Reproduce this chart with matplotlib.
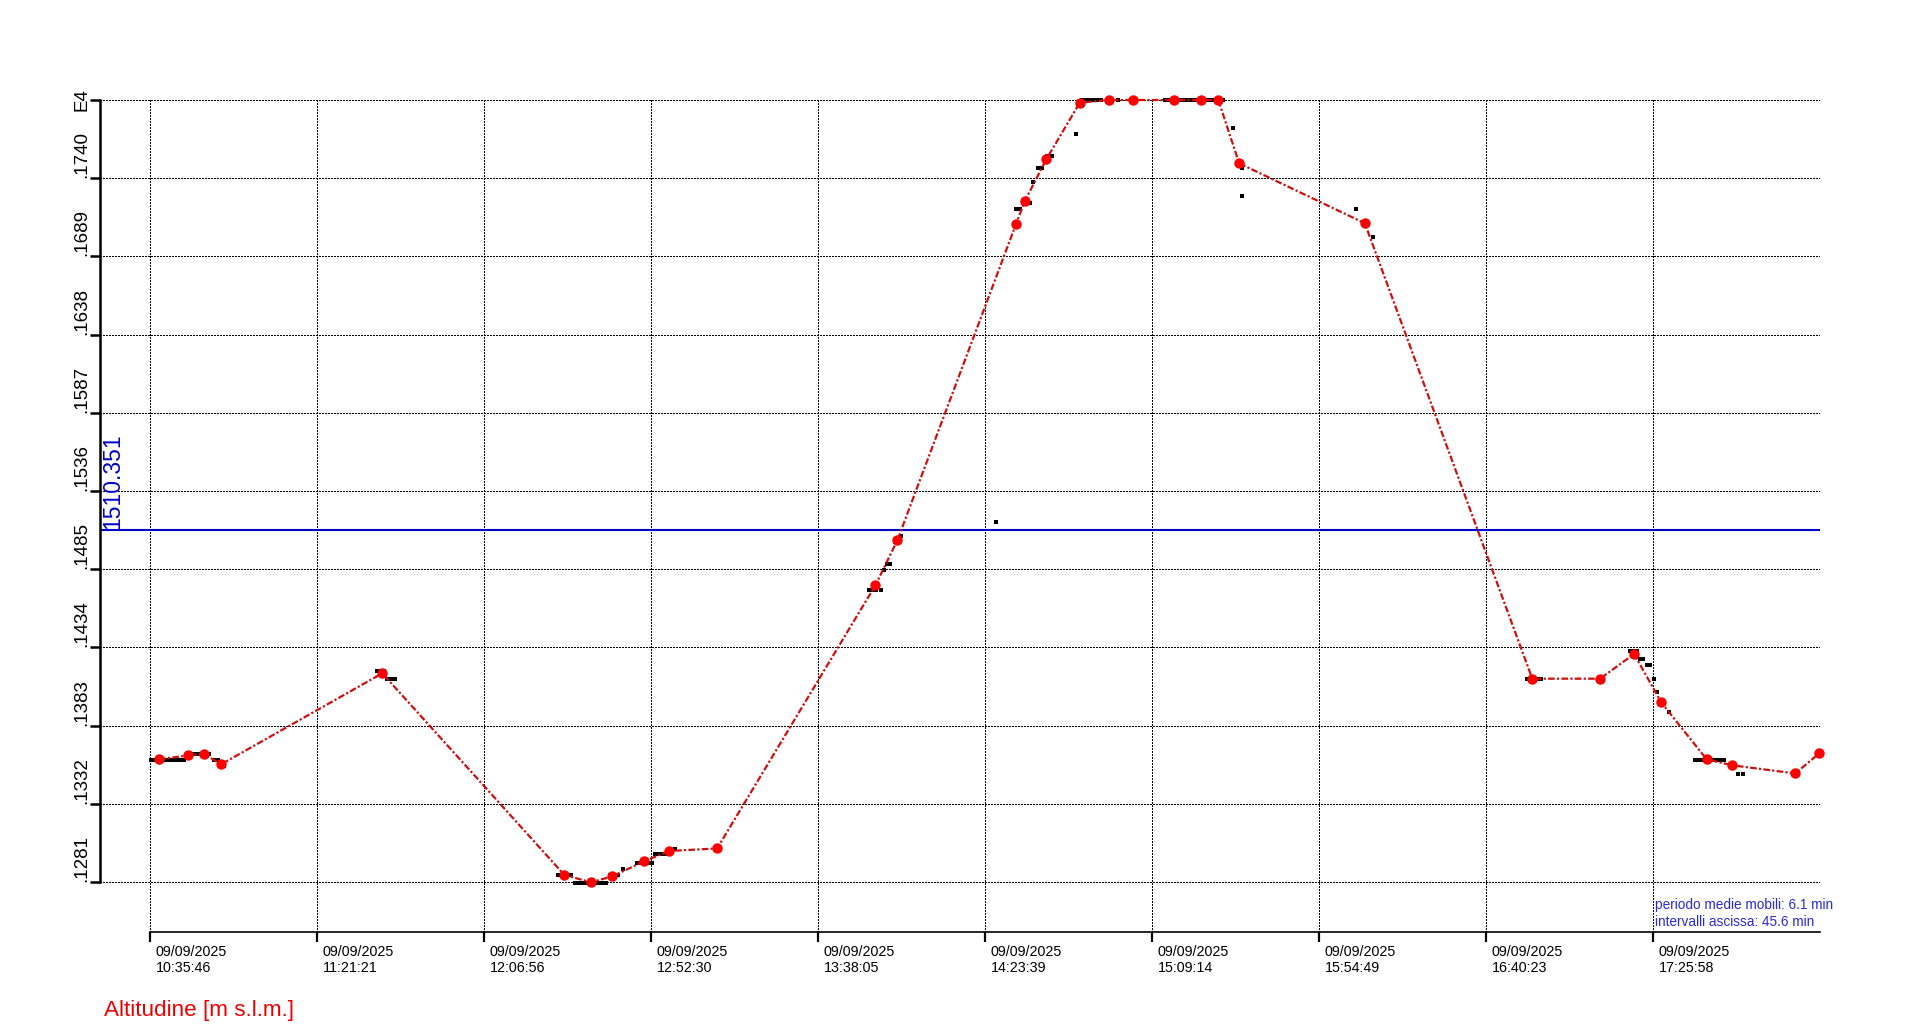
#---------Librerie---------#
import matplotlib
matplotlib.use("Agg")
import matplotlib.pyplot as plt
#---------Librerie---------#

plt.rcParams['font.family'] = ['Liberation Sans', 'DejaVu Sans']

#----------Dati----------#
INTERVALLO = 45 + 35 / 60   # minuti tra due linee verticali (45.6 min)

etichette_x = ["09/09/2025\n10:35:46", "09/09/2025\n11:21:21", "09/09/2025\n12:06:56",
               "09/09/2025\n12:52:30", "09/09/2025\n13:38:05", "09/09/2025\n14:23:39",
               "09/09/2025\n15:09:14", "09/09/2025\n15:54:49", "09/09/2025\n16:40:23",
               "09/09/2025\n17:25:58"]

quote_y = [1281, 1332, 1383, 1434, 1485, 1536, 1587, 1638, 1689, 1740, 1791]
etichette_y = [".1281", ".1332", ".1383", ".1434", ".1485", ".1536", ".1587",
               ".1638", ".1689", ".1740", "E4"]

# medie mobili (minuti dall'inizio, quota)
media_min = [2.5, 10.5, 14.8, 19.4, 63.4, 113.1, 120.4, 126.2, 134.8, 141.6, 154.8,
             198.0, 204.0, 236.4, 238.8, 244.7, 253.8, 261.8, 268.4, 279.5, 286.9,
             291.6, 297.3, 331.6, 377.3, 395.8, 405.1, 412.5, 424.9, 431.9, 449.1, 455.6]
media_quota = [1361.0, 1363.6, 1364.5, 1357.7, 1417.1, 1285.6, 1280.8, 1284.7, 1294.4,
               1301.2, 1302.9, 1474.5, 1503.9, 1710.2, 1725.2, 1752.5, 1789.3, 1791.0,
               1791.0, 1791.0, 1791.0, 1791.0, 1749.7, 1710.6, 1413.6, 1413.6, 1429.7,
               1398.1, 1361.0, 1357.1, 1351.8, 1364.9]

# punti grezzi
grezzi_min = [0.3, 1.3, 2.3, 3.3, 4.3, 5.3, 6.3, 7.3, 8.3, 9.4,
              10.6, 11.7, 12.8, 13.9, 15.0, 16.1,
              17.5, 18.6, 19.3, 20.3,
              62.0, 63.0, 64.0, 64.8, 65.8, 66.8,
              111.5, 112.6, 113.7, 114.8,
              116.0, 117.1, 118.1, 119.2, 120.2, 121.3, 122.3, 123.4, 124.4,
              125.6, 126.7, 127.7, 129.2,
              133.0, 134.0, 135.0, 136.0, 137.0,
              137.8, 138.8, 139.8, 140.8, 142.0, 143.2,
              196.3, 197.3, 198.3, 199.4, 200.4, 201.3, 202.1, 203.4, 204.9,
              230.8,
              236.4, 237.6, 238.4, 239.4, 240.2, 240.9, 242.3, 243.6, 244.8, 246.1,
              252.7,
              254.5, 255.5, 256.5, 257.5, 258.5, 259.5, 264.3,
              277.0, 278.0, 279.0, 280.0, 281.0, 282.0, 283.0, 284.0, 285.0,
              286.0, 287.0, 288.0, 289.0, 290.0, 291.0, 292.0, 293.0,
              295.7, 298.2, 298.2,
              329.3, 333.7,
              375.8, 376.8, 377.8, 378.8, 379.8,
              404.0, 405.0, 405.8, 406.6, 407.6, 408.6, 409.3, 410.4, 411.3, 414.7,
              421.7, 422.7, 423.7, 424.7, 425.7, 426.7, 427.7, 428.7, 429.7,
              433.4, 434.8]
grezzi_quota = [1360.6, 1360.6, 1360.6, 1360.6, 1360.6, 1360.6, 1360.6, 1360.6, 1360.6, 1360.6,
                1364.7, 1364.7, 1364.7, 1364.7, 1364.7, 1364.7,
                1360.6, 1360.6, 1356.9, 1356.9,
                1418.8, 1418.8, 1418.8, 1413.4, 1413.4, 1413.4,
                1285.8, 1285.8, 1285.8, 1285.8,
                1280.5, 1280.5, 1280.5, 1280.5, 1280.5, 1280.5, 1280.5, 1280.5, 1280.5,
                1285.6, 1285.6, 1285.6, 1289.5,
                1293.6, 1293.6, 1293.6, 1293.6, 1293.6,
                1299.3, 1299.3, 1299.3, 1299.3, 1302.5, 1302.5,
                1471.6, 1471.6, 1471.6, 1471.6, 1484.7, 1488.5, 1488.5, 1502.9, 1506.9,
                1516.0,
                1720.1, 1720.1, 1724.0, 1724.0, 1724.0, 1737.7, 1746.9, 1746.9, 1754.5, 1754.5,
                1768.8,
                1790.8, 1790.8, 1790.8, 1790.8, 1790.8, 1790.8, 1790.8,
                1790.8, 1790.8, 1790.8, 1790.8, 1790.8, 1790.8, 1790.8, 1790.8, 1790.8,
                1790.8, 1790.8, 1790.8, 1790.8, 1790.8, 1790.8, 1790.8, 1790.8,
                1773.0, 1746.8, 1728.5,
                1720.1, 1701.9,
                1413.4, 1413.4, 1413.4, 1413.4, 1413.4,
                1431.9, 1431.9, 1431.9, 1426.4, 1426.4, 1422.7, 1422.7, 1413.4, 1405.1, 1392.1,
                1360.8, 1360.8, 1360.8, 1360.8, 1360.8, 1360.8, 1360.8, 1360.8, 1360.8,
                1351.6, 1351.6]

QUOTA_MEDIA = 1510.351
TESTO_INFO = "periodo medie mobili: 6.1 min\nintervalli ascissa: 45.6 min"
#----------Dati----------#

#----------Grafico----------#
fig = plt.figure(figsize=(19.2, 10.32), dpi=100)
ax = fig.add_axes([100 / 1920, 100 / 1032, 1720 / 1920, 832 / 1032])

tick_x = [i * INTERVALLO for i in range(len(etichette_x))]
passo_y = quote_y[1] - quote_y[0]
ax.set_xlim(-50 / 167 * INTERVALLO, len(etichette_x) * INTERVALLO)
ax.set_ylim(quote_y[0] - 50 / 78.2 * passo_y, quote_y[-1])

for lato in ["top", "right"]:
    ax.spines[lato].set_visible(False)
ax.spines["left"].set_bounds(quote_y[0], quote_y[-1])
ax.spines["left"].set_linewidth(1.8)
ax.spines["bottom"].set_bounds(0, len(etichette_x) * INTERVALLO)
ax.spines["bottom"].set_linewidth(1.2)

ax.set_xticks(tick_x)
ax.set_xticklabels([])
ax.tick_params(axis="x", direction="out", length=7.5, width=1.6)
ax.set_yticks(quote_y)
ax.set_yticklabels(etichette_y, rotation=90, va="bottom", fontsize=13.5)
ax.get_yticklabels()[-1].set_va("center")
ax.tick_params(axis="y", direction="out", length=7.2, width=1.8, pad=0)

# griglia a puntini
ax.grid(True, color="black", linewidth=0.75, linestyle=(0, (1.4, 1.4)), antialiased=False)
ax.set_axisbelow(True)

for t, lab in zip(tick_x, etichette_x):
    ax.annotate(lab, xy=(t, 0), xycoords=ax.get_xaxis_transform(),
                xytext=(4, -9), textcoords="offset points",
                ha="left", va="top", fontsize=10.3, linespacing=1.2)

# linea quota media
ax.axhline(QUOTA_MEDIA, color="#0000CC", linewidth=1.5, zorder=2)
ax.annotate(f"{QUOTA_MEDIA:.3f}", xy=(0, QUOTA_MEDIA), xycoords=ax.get_yaxis_transform(),
            xytext=(9.5, 1), textcoords="offset points", rotation=90,
            ha="center", va="bottom", fontsize=16.5, color="#0000CC")

# punti grezzi e medie mobili
ax.plot(grezzi_min, grezzi_quota, "s", color="black", markersize=3, markeredgewidth=0,
        clip_on=False, zorder=3)
ax.plot(media_min, media_quota, color="#CC1010", linewidth=1.6,
        linestyle=(0, (3, 1, 1, 1)), marker="o", markersize=6.5,
        markerfacecolor="#FF0000", markeredgecolor="#FF0000", clip_on=False, zorder=4)

fig.text(104 / 1920, 1 - 1000 / 1032, "Altitudine [m s.l.m.]", color="#EE0000",
         fontsize=16.2, ha="left", va="top")
fig.text(1655 / 1920, 1 - 898 / 1032, TESTO_INFO, color="#2A2AD0",
         fontsize=9.8, ha="left", va="top", linespacing=1.3)

plt.savefig("out.png", dpi=100)
plt.close()
#----------Grafico----------#
